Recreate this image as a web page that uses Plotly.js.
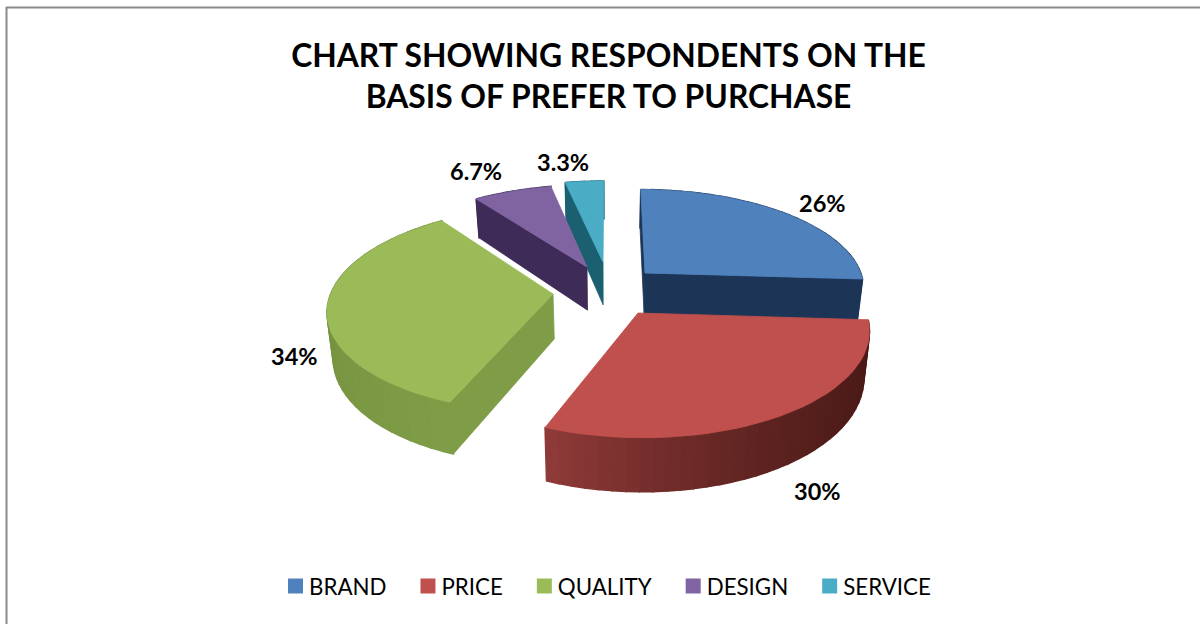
<!DOCTYPE html>
<html>
<head>
<meta charset="utf-8">
<script src="https://cdn.plot.ly/plotly-3.0.1.min.js"></script>
<style>html,body{margin:0;padding:0;background:#fff}#chart{width:1200px;height:624px}</style>
</head>
<body>
<div id="chart"></div>
<script>
// Preference shares, in percent
const categories = ["BRAND", "PRICE", "QUALITY", "DESIGN", "SERVICE"];
const shares = [26, 30, 34, 6.7, 3.3];

// Face colours per slice
const topColors = ["#4F81BD", "#C0504D", "#9BBB59", "#8064A2", "#4BACC6"];
const wallNear = ["#1C3557", "#8E3A38", "#7F9C47", "#3E2B57", "#1A6070"];
const wallFar = ["#1C3557", "#4A1A17", "#6E8A38", "#3E2B57", "#1A6070"];

// Exploded tip of each slice on the page, and label anchors
const tips = [[645, 273], [638, 313], [553, 294], [587, 267], [603, 262]];
const labelSpots = [[822, 203], [817, 491], [294, 356], [476, 171], [563, 162]];
// Back-to-front painting order
const paintOrder = [4, 3, 0, 2, 1];

// Perspective view of the tilted pie
const view = {cx: 610, cy: 280, rx: 218, ry: 97, k: 0.14, depth: 44, shrink: 0.978};

function toScreen(X, Y) {
  const s = 1 / (1 - view.k * Y);
  return [view.cx + view.rx * X * s, view.cy + view.ry * Y * s, s];
}
function toGround(px, py) {
  const d = (py - view.cy) / view.ry;
  const Y = d / (1 + view.k * d);
  const s = 1 / (1 - view.k * Y);
  return [(px - view.cx) / (view.rx * s), Y];
}
function rimPoint(g, deg) {
  const t = deg * Math.PI / 180;
  return toScreen(g[0] + Math.sin(t), g[1] - Math.cos(t));
}
function drop(p) {
  return [view.cx + (p[0] - view.cx) * view.shrink, p[1] + view.depth * p[2]];
}
function face(points, color, edge) {
  const xs = points.map(p => p[0]), ys = points.map(p => p[1]);
  xs.push(xs[0]); ys.push(ys[0]);
  return {
    type: "scatter", mode: "lines", x: xs, y: ys, fill: "toself", fillcolor: color,
    line: {color: color, width: edge}, showlegend: false, hoverinfo: "skip"
  };
}
function mix(a, b, f) {
  const pa = parseInt(a.slice(1), 16), pb = parseInt(b.slice(1), 16);
  const ch = sh => Math.round(((pa >> sh) & 255) * (1 - f) + ((pb >> sh) & 255) * f);
  return `rgb(${ch(16)},${ch(8)},${ch(0)})`;
}

const total = shares.reduce((a, b) => a + b, 0);
let running = 0;
const spans = shares.map(v => {
  const from = running / total * 360;
  running += v;
  return [from, running / total * 360];
});

const traces = [];
paintOrder.forEach(i => {
  const g = toGround(tips[i][0], tips[i][1]);
  const tip = toScreen(g[0], g[1]);
  const [from, to] = spans[i];
  const steps = Math.max(6, Math.round((to - from) / 3));
  const rim = [];
  for (let n = 0; n <= steps; n++) rim.push(rimPoint(g, from + (to - from) * n / steps));

  // Curved outer wall, shaded strip by strip from the right-hand end
  for (let n = 0; n < steps; n++) {
    const along = n / (steps - 1);
    const color = i === 1
      ? mix(wallFar[i], wallNear[i], along * along)
      : mix(wallFar[i], wallNear[i], 1 - along);
    traces.push(face([rim[n], rim[n + 1], drop(rim[n + 1]), drop(rim[n])], color, 1.5));
  }
  // Cut faces, only where they turn towards the viewer
  if (Math.sin(from * Math.PI / 180) <= 0.001) {
    traces.push(face([tip, rim[0], drop(rim[0]), drop(tip)], wallNear[i], 0.8));
  }
  if (Math.sin(to * Math.PI / 180) > 0.001) {
    traces.push(face([tip, rim[steps], drop(rim[steps]), drop(tip)], wallNear[i], 0.8));
  }
  // Top face
  traces.push(face([tip].concat(rim), topColors[i], 0.8));
});

// Legend entries
categories.forEach((name, i) => {
  traces.push({
    type: "scatter", mode: "markers", x: [null], y: [null], name: name,
    marker: {symbol: "square", size: 15, color: topColors[i]}, hoverinfo: "skip"
  });
});

const labelText = shares.map(v => v + "%");
const layout = {
  width: 1200, height: 624,
  paper_bgcolor: "#fff", plot_bgcolor: "#fff",
  margin: {l: 0, r: 0, t: 0, b: 0},
  title: {
    text: "<b>CHART SHOWING RESPONDENTS ON THE<br>BASIS OF PREFER TO PURCHASE</b>",
    x: 608.5 / 1200, xanchor: "center", y: 1 - 67 / 624, yanchor: "middle",
    font: {family: "Lato", size: 31.8, color: "#000"}
  },
  xaxis: {range: [0, 1200], visible: false, fixedrange: true},
  yaxis: {range: [624, 0], visible: false, fixedrange: true},
  showlegend: true,
  legend: {
    orientation: "h", x: 259 / 1200, xanchor: "left", y: 1 - 586 / 624, yanchor: "middle",
    font: {family: "Lato", size: 22.3, color: "#000"}, itemsizing: "trace", itemwidth: 40,
    itemclick: false, itemdoubleclick: false, traceorder: "normal"
  },
  annotations: labelSpots.map((p, i) => ({
    x: p[0], y: p[1], xref: "x", yref: "y", text: "<b>" + labelText[i] + "</b>", showarrow: false,
    xanchor: "center", yanchor: "middle",
    font: {family: "Lato", size: 23.5, color: "#000"}
  })),
  shapes: [
    {type: "line", xref: "x", yref: "y", x0: 6.5, x1: 6.5, y0: 7, y1: 624, line: {color: "#8a8a8a", width: 2}},
    {type: "line", xref: "x", yref: "y", x0: 6, x1: 1200, y0: 7.5, y1: 7.5, line: {color: "#8a8a8a", width: 2}}
  ]
};
Plotly.newPlot("chart", traces, layout, {staticPlot: true, displayModeBar: false}).then(gd => {
  // Sit each legend swatch close to its text
  gd.querySelectorAll(".legend .legendsymbols").forEach(el => el.setAttribute("transform", "translate(11.5,0)"));
});
</script>
</body>
</html>
